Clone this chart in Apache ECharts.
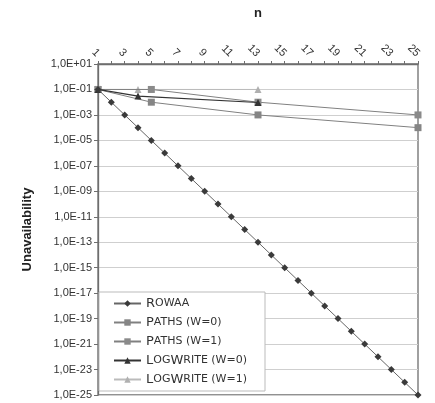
<!DOCTYPE html>
<html>
<head>
<meta charset="utf-8">
<script src="https://cdn.jsdelivr.net/npm/echarts@6/dist/echarts.min.js"></script>
<style>
  html, body { margin: 0; padding: 0; background: #fff; }
  #chart { width: 435px; height: 403px; }
</style>
</head>
<body>
<div id="chart"></div>
<script>
// x categories (n)
var nValues = ['1','2','3','4','5','6','7','8','9','10','11','12','13','14','15','16','17','18','19','20','21','22','23','24','25'];

// series values
var rowaa = [1e-1, 1e-2, 1e-3, 1e-4, 1e-5, 1e-6, 1e-7, 1e-8, 1e-9, 1e-10, 1e-11, 1e-12, 1e-13,
             1e-14, 1e-15, 1e-16, 1e-17, 1e-18, 1e-19, 1e-20, 1e-21, 1e-22, 1e-23, 1e-24, 1e-25];
var pathsN = ['1', '5', '13', '25'];
var pathsW0 = [1e-1, 1e-2, 1e-3, 1e-4];
var pathsW1 = [1e-1, 1e-1, 1e-2, 1e-3];
var logWriteN = ['1', '4', '13'];
var logWriteW0 = [1e-1, 3e-2, 9.5e-3];
var logWriteW1 = [1e-1, 1e-1, 1e-1];

// y axis range in decades (log axis of echarts can't go down to 1e-25)
var yMinExp = -25;
var yMaxExp = 1;

// values go on a decade axis
function pairs(xs, ys) {
  return xs.map(function (x, i) { return [x, Math.log10(ys[i])]; });
}

// small caps look for legend names
var legendRich = {
  c: { fontSize: 13, lineHeight: 15, color: '#333', fontFamily: 'DejaVu Sans' },
  s: { fontSize: 11, lineHeight: 15, color: '#333', fontFamily: 'DejaVu Sans' }
};
var legendText = {
  'Rowaa': '{c|R}{s|OWAA}',
  'Paths (w=0)': '{c|P}{s|ATHS (W=0)}',
  'Paths (w=1)': '{c|P}{s|ATHS (W=1)}',
  'LogWrite (w=0)': '{c|L}{s|OG}{c|W}{s|RITE (W=0)}',
  'LogWrite (w=1)': '{c|L}{s|OG}{c|W}{s|RITE (W=1)}'
};

var chart = echarts.init(document.getElementById('chart'));
var option = {
  animation: false,
  textStyle: { fontFamily: 'Liberation Sans' },
  grid: {
    left: 98, right: 17, top: 64, bottom: 8,
    show: true, borderColor: '#6e6e6e', borderWidth: 1.3,
    containLabel: false,
    outerBoundsMode: 'none'
  },
  legend: {
    orient: 'vertical',
    left: 99, top: 292,
    padding: [5, 18, 5, 14],
    itemWidth: 27, itemHeight: 8, itemGap: 6,
    backgroundColor: '#fff',
    borderColor: '#bbb', borderWidth: 1,
    formatter: function (name) { return legendText[name]; },
    textStyle: { rich: legendRich },
    data: ['Rowaa', 'Paths (w=0)', 'Paths (w=1)', 'LogWrite (w=0)', 'LogWrite (w=1)']
  },
  xAxis: {
    type: 'category',
    position: 'top',
    data: nValues,
    boundaryGap: false,
    name: 'n',
    nameLocation: 'middle',
    nameGap: 44,
    nameTextStyle: { fontSize: 13, fontWeight: 'bold', color: '#222' },
    axisLine: { onZero: false, lineStyle: { color: '#6e6e6e', width: 1.3 } },
    axisTick: { interval: 0, length: 3, lineStyle: { color: '#6e6e6e' } },
    axisLabel: { interval: 1, rotate: 45, fontSize: 11, color: '#333', margin: 9 },
    splitLine: { show: false }
  },
  yAxis: {
    type: 'value',
    min: yMinExp,
    max: yMaxExp,
    interval: 2,
    name: 'Unavailability',
    nameLocation: 'middle',
    nameGap: 64,
    nameTextStyle: { fontSize: 13, fontWeight: 'bold', color: '#222' },
    axisLine: { show: true, onZero: false, lineStyle: { color: '#6e6e6e', width: 1.3 } },
    axisTick: { show: true, length: 4, lineStyle: { color: '#6e6e6e' } },
    axisLabel: {
      fontSize: 11, color: '#333', margin: 6,
      formatter: function (v) {
        var e = Math.round(v);
        var s = String(Math.abs(e));
        if (s.length < 2) s = '0' + s;
        return '1,0E' + (e >= 0 ? '+' : '-') + s;
      }
    },
    splitLine: { show: true, lineStyle: { color: '#cfcfcf', width: 1 } }
  },
  series: [
    {
      name: 'Rowaa', type: 'line', z: 5,
      data: pairs(nValues, rowaa),
      symbol: 'diamond', symbolSize: 7,
      lineStyle: { color: '#666', width: 1 },
      itemStyle: { color: '#3a3a3a' }
    },
    {
      name: 'Paths (w=0)', type: 'line', z: 3,
      data: pairs(pathsN, pathsW0),
      symbol: 'rect', symbolSize: 7,
      lineStyle: { color: '#808080', width: 1 },
      itemStyle: { color: '#858585' }
    },
    {
      name: 'Paths (w=1)', type: 'line', z: 3,
      data: pairs(pathsN, pathsW1),
      symbol: 'rect', symbolSize: 7,
      lineStyle: { color: '#808080', width: 1 },
      itemStyle: { color: '#8a8a8a' }
    },
    {
      name: 'LogWrite (w=0)', type: 'line', z: 4,
      data: pairs(logWriteN, logWriteW0),
      symbol: 'triangle', symbolSize: 7,
      lineStyle: { color: '#333', width: 1.2 },
      itemStyle: { color: '#333' }
    },
    {
      name: 'LogWrite (w=1)', type: 'line', z: 2,
      data: pairs(logWriteN, logWriteW1),
      symbol: 'triangle', symbolSize: 7,
      lineStyle: { color: '#bbb', width: 1 },
      itemStyle: { color: '#b0b0b0' }
    }
  ]
};
chart.setOption(option);
</script>
</body>
</html>
